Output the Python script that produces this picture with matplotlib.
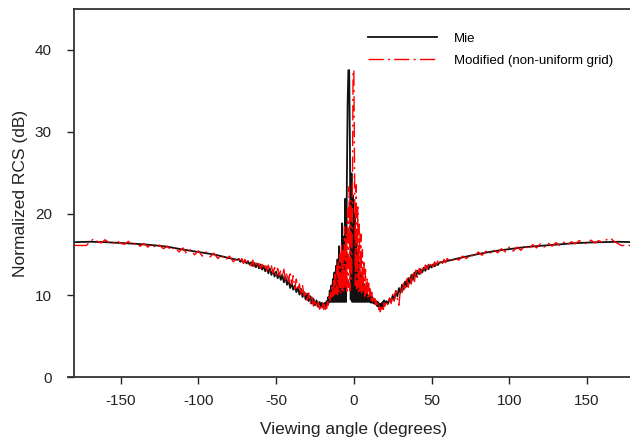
import matplotlib
matplotlib.use("Agg")
import matplotlib.pyplot as plt

# ---- Mie solution (black) ----
mie_angle = [
    -180, -170, -160, -150, -140, -130, -120, -110, -100, -90, -80, -75,
    -74, -73, -72, -71, -70, -69, -68, -67, -66, -65, -64, -63, -62, -61,
    -60, -59, -58, -57, -56, -55, -54, -53, -52, -51, -50, -49, -48, -47,
    -46, -45, -44, -43, -42, -41, -40, -39, -38, -37, -36, -35, -34, -33,
    -32, -31, -30, -29, -28, -27, -26, -25, -24, -23, -22, -21,
    -20.5, -20, -19.5, -19, -18.5, -18, -17.5, -17, -16.5, -16, -15.5, -15,
    -14.5, -14, -13.5, -13, -12.5, -12, -11.5, -11, -10.5, -10, -9.5, -9,
    -8.5, -8, -7.5, -7, -6.5, -6, -5.5, -5, -4.5, -4, -3.5, -3, -2.5, -2,
    -1.5, -1, -0.5, 0, 0.5, 1, 1.5, 2, 2.5, 3, 3.5, 4, 4.5, 5, 5.5, 6,
    6.5, 7, 7.5, 8, 8.5, 9, 9.5, 10, 10.5, 11, 11.5, 12, 12.5, 13, 13.5, 14,
    14.5, 15, 15.5, 16, 16.5, 17, 17.5, 18, 18.5, 19, 19.5, 20,
    21, 22, 23, 24, 25, 26, 27, 28, 29, 30, 31, 32, 33, 34, 35, 36, 37, 38,
    39, 40, 41, 42, 43, 44, 45, 46, 47, 48, 49, 50, 51, 52, 53, 54, 55,
    60, 70, 80, 90, 100, 110, 120, 130, 140, 150, 160, 170, 180,
]
mie_rcs = [
    16.5, 16.55, 16.5, 16.4, 16.3, 16.15, 15.95, 15.6, 15.3, 15.0, 14.55, 14.35,
    14.45, 14.1, 14.35, 14.0, 14.25, 13.9, 14.15, 13.75, 14.05, 13.6, 13.95, 13.45, 13.85, 13.3,
    13.75, 13.15, 13.6, 12.95, 13.45, 12.7, 13.3, 12.5, 13.1, 12.3, 12.9, 12.1, 12.7, 11.9,
    12.5, 11.6, 12.3, 11.3, 11.9, 10.9, 11.5, 10.7, 11.2, 10.4, 11.0, 10.1, 10.8, 9.8,
    10.4, 9.5, 10.2, 9.3, 9.9, 9.0, 9.6, 8.8, 9.4, 8.6, 9.2, 8.6,
    9.1, 8.6, 9.0, 8.5, 9.1, 8.7, 9.3, 8.9, 9.8, 9.1, 10.6, 9.2,
    11.2, 9.2, 12.0, 9.2, 12.8, 9.2, 13.6, 9.2, 14.4, 9.2, 16.0, 9.2,
    15.0, 9.2, 18.8, 9.2, 17.2, 9.2, 21.8, 9.2, 23.7, 33.5, 37.5, 37.5, 28.0, 9.5,
    24.9, 9.2, 22.2, 9.2, 20.0, 9.2, 17.5, 9.2, 15.1, 9.2, 14.0, 9.2, 12.6, 9.2, 11.8, 9.2,
    11.4, 9.2, 10.8, 9.2, 10.2, 9.2, 10.0, 9.2, 9.8, 9.1, 9.9, 9.1, 9.6, 9.0, 9.5, 8.9,
    9.3, 8.7, 9.2, 8.6, 9.0, 8.5, 9.0, 8.6, 9.2, 8.7, 9.4, 8.9,
    9.3, 9.0, 9.6, 9.2, 10.0, 9.5, 10.5, 9.9, 10.9, 10.3, 11.3, 10.7, 11.7, 11.1, 12.1, 11.5, 12.5, 11.9,
    12.8, 12.3, 13.0, 12.6, 13.2, 12.8, 13.4, 13.0, 13.6, 13.2, 13.7, 13.4, 13.8, 13.55, 13.9, 13.7, 14.0,
    14.2, 14.65, 15.05, 15.4, 15.65, 15.9, 16.05, 16.2, 16.35, 16.45, 16.5, 16.55, 16.5,
]

# ---- Modified, non-uniform grid (red) ----
mod_angle = [
    -180, -172, -170, -167.5, -165, -162.5, -160, -157.5, -155, -152.5, -150,
    -147.5, -145, -142.5, -140, -137.5, -135, -132.5, -130, -127.5, -125,
    -122.5, -120, -117.5, -115, -112.5, -110, -107.5, -105, -102.5, -100,
    -97.5, -95, -92.5, -90, -87.5, -85, -82.5, -80, -77.5, -75,
    -74, -73, -72, -71, -70, -69, -68, -67, -66, -65, -64, -63, -62, -61,
    -60, -59, -58, -57, -56, -55, -54, -53, -52, -51, -50, -49, -48, -47,
    -46, -45, -44, -43, -42, -41, -40, -39, -38, -37, -36, -35, -34, -33,
    -32, -31, -30, -29, -28, -27, -26, -25, -24, -23, -22, -21,
    -20.5, -20, -19.5, -19, -18.5, -18, -17.5, -17, -16.5, -16, -15.5, -15,
    -14.5, -14, -13.5, -13, -12.5, -12, -11.5, -11, -10.5, -10, -9.5, -9,
    -8.5, -8, -7.5, -7, -6.5, -6, -5.5, -5, -4.5, -4, -3.5, -3, -2.5, -2,
    -1.5, -1, -0.5, 0, 0.5, 1, 1.5, 2, 2.5, 3, 3.5, 4, 4.5, 5, 5.5, 6,
    6.5, 7, 7.5, 8, 8.5, 9, 9.5, 10, 10.5, 11, 11.5, 12, 12.5, 13, 13.5, 14,
    14.5, 15, 15.5, 16, 16.5, 17, 17.5, 18, 18.5, 19, 19.5, 20,
    21, 22, 23, 24, 25, 26, 27, 28, 29, 30, 31, 32, 33, 34, 35, 36, 37, 38,
    39, 40, 41, 42, 43, 44, 45, 46, 47, 48, 49, 50, 51, 52, 53, 54, 55,
    56, 57, 58, 59,
    60, 62.5, 65, 67.5, 70, 72.5, 75, 77.5, 80, 82.5, 85, 87.5, 90, 92.5,
    95, 97.5, 100, 102.5, 105, 107.5, 110, 112.5, 115, 117.5, 120, 122.5,
    125, 127.5, 130, 132.5, 135, 137.5, 140, 142.5, 145, 147.5, 150, 152.5,
    155, 157.5, 160, 162.5, 165, 167.5, 170, 172, 180,
]
mod_rcs = [
    16.1, 16.1, 16.5, 16.9, 16.6, 16.4, 16.8, 16.45, 16.3, 16.7, 16.35,
    16.25, 16.6, 16.1, 16.4, 16.0, 16.35, 15.9, 16.3, 15.8, 16.15,
    15.7, 16.0, 15.5, 15.9, 15.3, 15.8, 15.1, 15.6, 14.95, 15.45,
    14.8, 15.3, 14.7, 15.15, 14.5, 14.95, 14.3, 14.8, 14.1, 14.6,
    14.6, 14.0, 14.5, 13.9, 14.4, 13.8, 14.3, 14.0, 13.6, 14.3, 13.5, 14.0, 13.4, 13.9,
    13.3, 13.8, 13.2, 13.9, 13.0, 13.7, 12.8, 13.6, 12.7, 13.4, 12.5, 13.3, 12.4, 13.1,
    12.3, 13.2, 11.9, 12.8, 11.6, 12.9, 11.3, 12.4, 10.8, 12.0, 10.6, 11.4, 10.0, 11.2,
    9.9, 10.6, 9.4, 10.3, 9.0, 9.8, 8.7, 9.5, 8.5, 9.2, 8.3, 8.9,
    8.4, 9.0, 8.3, 8.9, 8.1, 8.8, 8.4, 9.2, 8.8, 9.8, 9.2, 10.4,
    9.6, 11.0, 9.9, 11.8, 10.0, 12.6, 10.2, 13.5, 10.1, 14.2, 10.4, 15.0,
    10.3, 16.3, 10.6, 15.5, 10.4, 18.4, 10.8, 17.5, 10.5, 20.5, 11.0, 23.3, 10.6, 21.6,
    12.0, 19.0, 37.5, 37.5, 25.0, 11.2, 23.5, 10.8, 20.8, 10.4, 18.7, 10.6, 17.5, 10.2, 15.6, 10.4,
    14.0, 9.9, 13.2, 10.2, 12.0, 9.7, 11.5, 9.6, 10.8, 9.4, 10.4, 9.3, 10.0, 9.1, 9.6, 8.9,
    9.3, 8.6, 9.0, 8.3, 8.7, 8.0, 8.5, 8.1, 8.8, 8.3, 9.1, 8.7,
    9.3, 8.8, 9.7, 9.0, 10.2, 9.3, 10.6, 9.6, 8.8, 10.9, 10.2, 11.5, 10.6, 12.0, 11.0, 12.4, 11.4, 12.9,
    11.7, 13.1, 12.2, 13.3, 12.6, 13.5, 12.9, 13.7, 13.2, 13.8, 13.4, 14.0, 13.5, 14.1, 13.7, 14.2, 13.8,
    14.3, 13.9, 14.4, 14.0,
    14.5, 14.1, 14.6, 14.3, 14.8, 14.5, 15.0, 14.7, 15.3, 14.9, 15.4, 15.1, 15.6, 15.2,
    15.7, 15.3, 15.9, 15.4, 15.9, 15.5, 16.1, 15.6, 16.2, 15.8, 16.3, 15.9,
    16.4, 16.0, 16.45, 16.1, 16.5, 16.2, 16.55, 16.3, 16.7, 16.4, 16.3, 16.75,
    16.4, 16.7, 16.45, 16.8, 17.0, 16.6, 16.3, 16.1, 16.1,
]

x_ticks = [-150, -100, -50, 0, 50, 100, 150]
y_ticks = [0, 10, 20, 30, 40]

plt.rcParams['font.family'] = ['Liberation Sans', 'DejaVu Sans']
plt.rcParams['axes.unicode_minus'] = False

fig = plt.figure(figsize=(6.3, 4.41), dpi=100)
ax = fig.add_axes([0.1175, 0.1444, 0.8883, 0.8358])

ax.plot(mie_angle, mie_rcs, color='#111111', lw=1.3, label='Mie')
ax.plot(mod_angle, mod_rcs, color='#ff0000', lw=1.0,
        linestyle=(0, (11, 3, 1.5, 3)), label='Modified (non-uniform grid)')

ax.set_xlim(-180, 180)
ax.set_ylim(0, 45)
ax.set_xticks(x_ticks)
ax.set_yticks(y_ticks)
ax.tick_params(direction='out', length=5, width=1, colors='#222222',
               labelsize=11)
ax.tick_params(axis='y', pad=11)
ax.tick_params(axis='x', pad=7)

for side in ['left', 'bottom', 'top']:
    ax.spines[side].set_color('#333333')
    ax.spines[side].set_linewidth(1.3)
ax.spines['right'].set_visible(False)
ax.spines['bottom'].set_bounds(-184, 180)

ax.set_xlabel('Viewing angle (degrees)', fontsize=12.5, color='#222222', labelpad=10)
ax.set_ylabel('Normalized RCS (dB)', fontsize=12.5, color='#222222', labelpad=5)

ax.legend(loc='upper left', bbox_to_anchor=(0.584, 0.926),
          bbox_transform=fig.transFigure, frameon=False, fontsize=9.5,
          handlelength=5.2, handletextpad=1.3, labelspacing=0.72,
          borderpad=0, borderaxespad=0)

fig.savefig('out.png', dpi=100)
